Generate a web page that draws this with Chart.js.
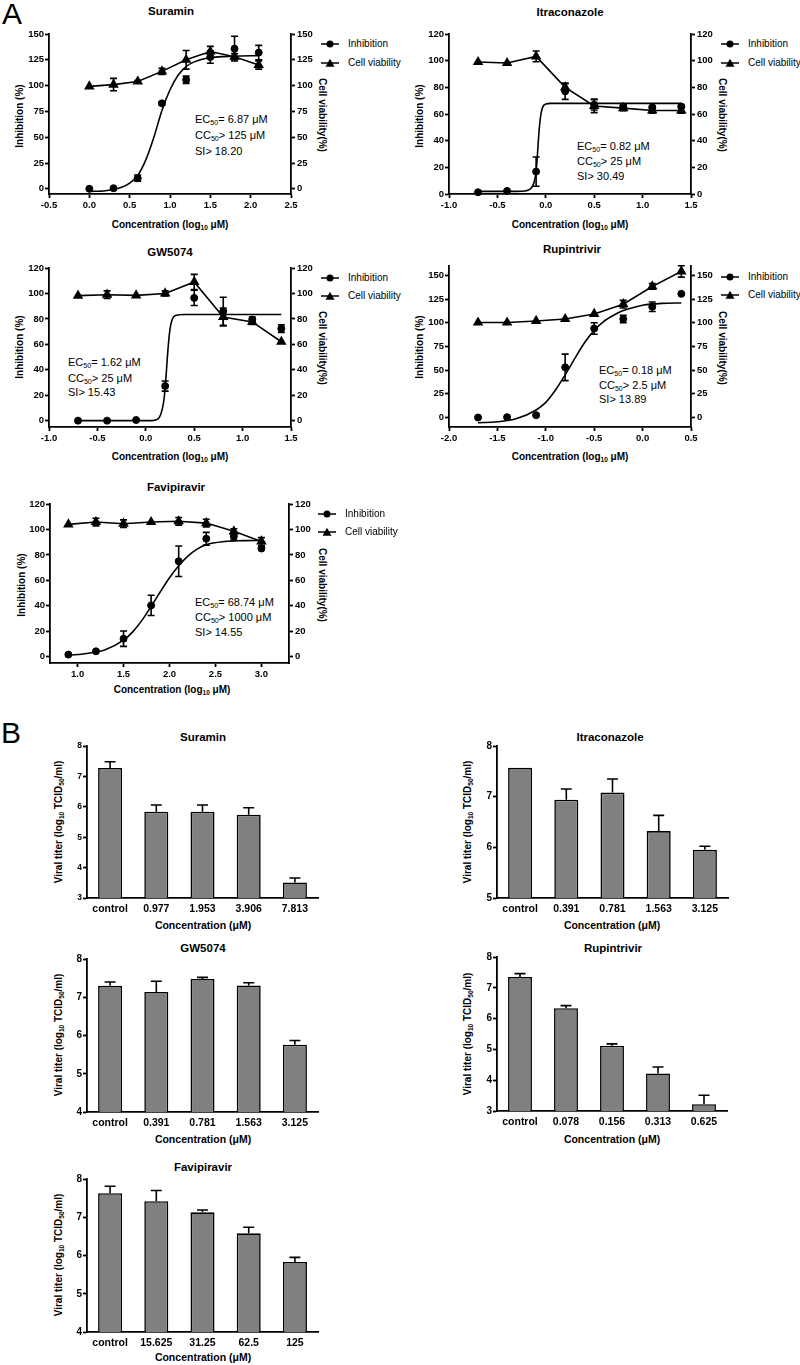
<!DOCTYPE html>
<html><head><meta charset="utf-8">
<script src="https://cdn.jsdelivr.net/npm/chart.js@4.4.0/dist/chart.umd.min.js"></script>
<style>
body{margin:0;background:#fff;}
#fig{position:relative;width:800px;height:1365px;background:#fff;overflow:hidden;font-family:'Liberation Sans',Arial,sans-serif;color:#000;}
#fig canvas{position:absolute;}
.t{position:absolute;white-space:nowrap;transform:translate(-50%,-50%);line-height:1;}
.title{font-size:11.5px;font-weight:bold;}
.xa{font-size:10px;font-weight:bold;}
.xb{font-size:10.5px;font-weight:bold;}
.yl{font-size:10px;font-weight:bold;transform:translate(-50%,-50%) rotate(-90deg);}
.yr{font-size:10px;font-weight:bold;transform:translate(-50%,-50%) rotate(90deg);}
.ann{position:absolute;font-size:11px;line-height:1;white-space:nowrap;transform:translateY(-50%);}
.leg{position:absolute;font-size:10px;line-height:1;white-space:nowrap;display:flex;align-items:center;transform:translateY(-50%);}
.leg svg{margin-right:9px;}
.big{position:absolute;font-size:30px;line-height:1;}
sub{font-size:0.65em;vertical-align:-0.3em;line-height:0;}
</style></head>
<body>
<div id="fig">
<div class="big" style="left:2px;top:-1.5px">A</div>
<div class="big" style="left:1px;top:717.5px">B</div>

<!-- A titles -->
<div class="t title" style="left:171px;top:12px">Suramin</div>
<div class="t title" style="left:570px;top:13px">Itraconazole</div>
<div class="t title" style="left:170px;top:253px">GW5074</div>
<div class="t title" style="left:572px;top:250px">Rupintrivir</div>
<div class="t title" style="left:176px;top:488px">Favipiravir</div>

<!-- A axis titles -->
<div class="t xa" style="left:170px;top:225px">Concentration (log<sub>10</sub> μM)</div>
<div class="t xa" style="left:570px;top:225px">Concentration (log<sub>10</sub> μM)</div>
<div class="t xa" style="left:170px;top:457px">Concentration (log<sub>10</sub> μM)</div>
<div class="t xa" style="left:570px;top:457px">Concentration (log<sub>10</sub> μM)</div>
<div class="t xa" style="left:172px;top:690px">Concentration (log<sub>10</sub> μM)</div>
<div class="t yl" style="left:20px;top:116px">Inhibition (%)</div>
<div class="t yl" style="left:420px;top:116px">Inhibition (%)</div>
<div class="t yl" style="left:20px;top:347px">Inhibition (%)</div>
<div class="t yl" style="left:420px;top:347px">Inhibition (%)</div>
<div class="t yl" style="left:22px;top:585px">Inhibition (%)</div>
<div class="t yr" style="left:322px;top:115px">Cell viability(%)</div>
<div class="t yr" style="left:722px;top:115px">Cell viability(%)</div>
<div class="t yr" style="left:322px;top:348px">Cell viability(%)</div>
<div class="t yr" style="left:722px;top:348px">Cell viability(%)</div>
<div class="t yr" style="left:322px;top:585px">Cell viability(%)</div>

<!-- annotations -->
<div class="ann" style="left:195px;top:119px">EC<sub>50</sub>= 6.87 μM</div>
<div class="ann" style="left:195px;top:135px">CC<sub>50</sub>&gt; 125 μM</div>
<div class="ann" style="left:195px;top:151px">SI&gt; 18.20</div>
<div class="ann" style="left:577px;top:146px">EC<sub>50</sub>= 0.82 μM</div>
<div class="ann" style="left:577px;top:161px">CC<sub>50</sub>&gt; 25 μM</div>
<div class="ann" style="left:577px;top:176px">SI&gt; 30.49</div>
<div class="ann" style="left:68px;top:362px">EC<sub>50</sub>= 1.62 μM</div>
<div class="ann" style="left:68px;top:378px">CC<sub>50</sub>&gt; 25 μM</div>
<div class="ann" style="left:68px;top:392px">SI&gt; 15.43</div>
<div class="ann" style="left:599px;top:370px">EC<sub>50</sub>= 0.18 μM</div>
<div class="ann" style="left:599px;top:385px">CC<sub>50</sub>&gt; 2.5 μM</div>
<div class="ann" style="left:599px;top:399px">SI&gt; 13.89</div>
<div class="ann" style="left:195px;top:602px">EC<sub>50</sub>= 68.74 μM</div>
<div class="ann" style="left:195px;top:617px">CC<sub>50</sub>&gt; 1000 μM</div>
<div class="ann" style="left:195px;top:632px">SI&gt; 14.55</div>

<!-- B titles -->
<div class="t title" style="left:203px;top:738px">Suramin</div>
<div class="t title" style="left:610px;top:738px">Itraconazole</div>
<div class="t title" style="left:203px;top:949px">GW5074</div>
<div class="t title" style="left:613px;top:949px">Rupintrivir</div>
<div class="t title" style="left:203px;top:1168px">Favipiravir</div>
<div class="t xb" style="left:203px;top:925px">Concentration (μM)</div>
<div class="t xb" style="left:612px;top:925px">Concentration (μM)</div>
<div class="t xb" style="left:203px;top:1139px">Concentration (μM)</div>
<div class="t xb" style="left:612px;top:1139px">Concentration (μM)</div>
<div class="t xb" style="left:203px;top:1357px">Concentration (μM)</div>
<div class="t yl" style="left:59px;top:822px">Viral titer (log<sub>10</sub> TCID<sub>50</sub>/ml)</div>
<div class="t yl" style="left:468px;top:822px">Viral titer (log<sub>10</sub> TCID<sub>50</sub>/ml)</div>
<div class="t yl" style="left:59px;top:1035px">Viral titer (log<sub>10</sub> TCID<sub>50</sub>/ml)</div>
<div class="t yl" style="left:468px;top:1034px">Viral titer (log<sub>10</sub> TCID<sub>50</sub>/ml)</div>
<div class="t yl" style="left:59px;top:1255px">Viral titer (log<sub>10</sub> TCID<sub>50</sub>/ml)</div>
</div>

<script>
// ---------- Panel A data (x = log10 concentration, µM) ----------
const suraminX = [0.0, 0.3, 0.6, 0.9, 1.2, 1.5, 1.8, 2.1];
const suraminInhib = [0, 0.6, 10.3, 82.8, 105.7, 127.7, 135.8, 132];
const suraminInhibErr = [0, 0, 3, 1.5, 3.5, 6, 12, 7];
const suraminViab = [99.3, 101, 104, 113.8, 125, 133, 128, 120];
const suraminViabErr = [0, 6, 1, 3, 9, 5, 3, 4];
const suraminFitX = [0.0, 0.2, 0.4, 0.5, 0.6, 0.7, 0.8, 0.9, 1.0, 1.1, 1.2, 1.3, 1.5, 1.8, 2.1];
const suraminFitY = [-2.5, -1.8, 1.5, 5.5, 13, 28, 50, 76, 96, 110, 118.5, 123, 127, 128.5, 129];
const suraminXTicks = [-0.5, 0, 0.5, 1, 1.5, 2, 2.5];
const suraminYTicks = [0, 25, 50, 75, 100, 125, 150];

const itraX = [-0.7, -0.4, -0.1, 0.2, 0.5, 0.8, 1.1, 1.4];
const itraInhib = [1.3, 2.3, 16.8, 77, 67, 65.6, 65, 65.6];
const itraInhibErr = [0, 0, 11, 6, 4, 2, 1, 1];
const itraViab = [99, 98.2, 103.2, 80, 66, 64.4, 62.6, 62.6];
const itraViabErr = [0, 0, 4, 3, 5, 2, 2, 2];
const itraFitX = [-0.7, -0.3, -0.2, -0.15, -0.12, -0.1, -0.086, -0.07, -0.05, -0.03, 0.0, 0.05, 0.5, 1.4];
const itraFitY = [2, 2, 2.5, 4.5, 9, 17, 30, 47, 60, 65.5, 67.5, 68, 68, 68];
const itraXTicks = [-1, -0.5, 0, 0.5, 1, 1.5];
const itraYTicks = [0, 20, 40, 60, 80, 100, 120];

const gwX = [-0.7, -0.4, -0.1, 0.2, 0.5, 0.8, 1.1, 1.4];
const gwInhib = [0, 0, 0.5, 27.2, 96.5, 86, 79.5, 72.4];
const gwInhibErr = [0, 0, 0, 4, 6, 11, 2, 3];
const gwViab = [98.3, 99, 98.5, 100, 109, 81.5, 77.6, 62];
const gwViabErr = [0, 3, 0, 2, 6, 7, 2, 0];
const gwFitX = [-0.7, 0.05, 0.1, 0.14, 0.17, 0.19, 0.21, 0.23, 0.25, 0.27, 0.3, 0.4, 1.4];
const gwFitY = [0, 0, 0.5, 2.5, 9, 18, 36, 57, 72, 79, 82.5, 83.5, 83.5];
const gwXTicks = [-1, -0.5, 0, 0.5, 1, 1.5];
const gwYTicks = [0, 20, 40, 60, 80, 100, 120];

const rupX = [-1.7, -1.4, -1.1, -0.8, -0.5, -0.2, 0.1, 0.4];
const rupInhib = [0, 0.4, 2.5, 53, 94, 104, 117, 130.6];
const rupInhibErr = [0, 0, 0, 14, 6, 4, 5, 0];
const rupViab = [100.3, 100.3, 102, 104, 109.4, 119.7, 138.4, 154.3];
const rupViabErr = [0, 0, 0, 0, 0, 4, 3, 6];
const rupFitX = [-1.7, -1.5, -1.3, -1.1, -1.0, -0.9, -0.8, -0.7, -0.6, -0.5, -0.4, -0.3, -0.2, -0.1, 0.0, 0.2, 0.4];
const rupFitY = [-5.5, -4.5, -1, 8, 16, 29, 45, 62.5, 79, 92, 101.5, 108, 113, 116, 118.5, 120.5, 121];
const rupXTicks = [-2, -1.5, -1, -0.5, 0, 0.5];
const rupYTicks = [0, 25, 50, 75, 100, 125, 150];

const faviX = [0.9, 1.2, 1.5, 1.8, 2.1, 2.4, 2.7, 3.0];
const faviInhib = [1.6, 4.2, 14.1, 40.3, 75, 92.7, 94.6, 85];
const faviInhibErr = [0, 0, 6, 8, 12, 5, 3, 1];
const faviViab = [104, 105.8, 104.5, 105.8, 106.4, 105, 98.5, 90.6];
const faviViabErr = [0, 3, 3, 0, 3, 3, 2, 3];
const faviFitX = [0.9, 1.1, 1.3, 1.5, 1.6, 1.7, 1.8, 1.9, 2.0, 2.1, 2.2, 2.3, 2.4, 2.6, 2.8, 3.0];
const faviFitY = [1, 2.5, 5.5, 13, 19.5, 28.5, 39.5, 51, 62, 71.5, 79, 84.5, 88, 90.5, 91.2, 91.4];
const faviXTicks = [1, 1.5, 2, 2.5, 3];
const faviYTicks = [0, 20, 40, 60, 80, 100, 120];

// ---------- Panel B data (viral titer, log10 TCID50/ml) ----------
const bSuraminLabels = ['control', '0.977', '1.953', '3.906', '7.813'];
const bSuraminValues = [7.28, 5.84, 5.84, 5.74, 3.51];
const bSuraminErr = [0.2, 0.22, 0.22, 0.23, 0.15];
const bSuraminYTicks = [3, 4, 5, 6, 7, 8];

const bItraLabels = ['control', '0.391', '0.781', '1.563', '3.125'];
const bItraValues = [7.57, 6.94, 7.08, 6.32, 5.95];
const bItraErr = [0, 0.21, 0.27, 0.31, 0.07];
const bItraYTicks = [5, 6, 7, 8];

const bGwLabels = ['control', '0.391', '0.781', '1.563', '3.125'];
const bGwValues = [7.30, 7.14, 7.48, 7.31, 5.76];
const bGwErr = [0.1, 0.28, 0.04, 0.07, 0.11];
const bGwYTicks = [4, 5, 6, 7, 8];

const bRupLabels = ['control', '0.078', '0.156', '0.313', '0.625'];
const bRupValues = [7.35, 6.34, 5.12, 4.22, 3.22];
const bRupErr = [0.11, 0.08, 0.06, 0.21, 0.29];
const bRupYTicks = [3, 4, 5, 6, 7, 8];

const bFaviLabels = ['control', '15.625', '31.25', '62.5', '125'];
const bFaviValues = [7.63, 7.42, 7.13, 6.58, 5.83];
const bFaviErr = [0.18, 0.28, 0.06, 0.16, 0.12];
const bFaviYTicks = [4, 5, 6, 7, 8];

// ---------- rendering ----------
Chart.defaults.font.family = "'Liberation Sans', Arial, sans-serif";
Chart.defaults.color = '#000';
const fig = document.getElementById('fig');

const errorBars = {
  id: 'errorBars',
  afterDatasetsDraw(chart) {
    const ctx = chart.ctx;
    chart.data.datasets.forEach((ds, i) => {
      if (!ds.errors) return;
      const meta = chart.getDatasetMeta(i);
      const ys = chart.scales[meta.yAxisID];
      ctx.save();
      ctx.strokeStyle = '#000';
      ctx.lineWidth = 1.6;
      meta.data.forEach((el, j) => {
        const e = ds.errors[j];
        if (!e) return;
        const raw = ds.data[j];
        const v = (typeof raw === 'object') ? raw.y : raw;
        const x = el.x;
        const top = ys.getPixelForValue(v + e);
        const bot = ds.upOnly ? ys.getPixelForValue(v) : ys.getPixelForValue(v - e);
        const cap = ds.capHalf || 3.5;
        ctx.beginPath();
        ctx.moveTo(x, top); ctx.lineTo(x, bot);
        ctx.moveTo(x - cap, top); ctx.lineTo(x + cap, top);
        if (!ds.upOnly) { ctx.moveTo(x - cap, bot); ctx.lineTo(x + cap, bot); }
        ctx.stroke();
      });
      ctx.restore();
    });
  }
};

function addCanvas(left, top, w, h) {
  const cv = document.createElement('canvas');
  cv.width = w; cv.height = h;
  cv.style.left = left + 'px'; cv.style.top = top + 'px';
  cv.style.width = w + 'px'; cv.style.height = h + 'px';
  fig.appendChild(cv);
  return cv;
}

function axisStyle(tickArr, fmt, fontSize, pad) {
  return {
    afterBuildTicks: s => { s.ticks = tickArr.map(v => ({ value: v })); },
    ticks: { font: { size: fontSize, weight: 'bold' }, color: '#000', padding: pad, maxRotation: 0, autoSkip: false, callback: fmt },
    grid: { drawOnChartArea: false, drawTicks: true, tickLength: 4, tickColor: '#000', tickWidth: 1.8, color: '#000' },
    border: { display: true, color: '#000', width: 1.8 }
  };
}

function legendHTML(x, y1, y2) {
  const line = '<line x1="0" y1="5" x2="18" y2="5" stroke="#000" stroke-width="1.5"/>';
  const d1 = document.createElement('div');
  d1.className = 'leg'; d1.style.left = x + 'px'; d1.style.top = y1 + 'px';
  d1.innerHTML = '<svg width="18" height="10">' + line + '<circle cx="9" cy="5" r="3.5" fill="#000"/></svg>Inhibition';
  const d2 = document.createElement('div');
  d2.className = 'leg'; d2.style.left = x + 'px'; d2.style.top = y2 + 'px';
  d2.innerHTML = '<svg width="18" height="10">' + line + '<polygon points="9,0.8 13.5,8.8 4.5,8.8" fill="#000"/></svg>Cell viability';
  fig.appendChild(d1); fig.appendChild(d2);
}

function makeA(p) {
  const LW = 44, RW = 30, PT = 8, XH = 22;
  const W = (p.r - p.l) + LW + RW, H = (p.b - p.t) + PT + XH;
  const cv = addCanvas(p.l - LW, p.t - PT, W, H);
  const xs = Object.assign({ type: 'linear', position: 'bottom', min: p.xMin, max: p.xMax,
    afterFit: s => { s.height = XH; } }, axisStyle(p.xTicks, v => Number(v).toFixed(1), 9.5, 2));
  const yl = Object.assign({ type: 'linear', position: 'left', min: p.yMin, max: p.yMax,
    afterFit: s => { s.width = LW; } }, axisStyle(p.yTicks, v => String(v), 9.5, 1));
  const yr = Object.assign({ type: 'linear', position: 'right', min: p.yMin, max: p.yMax,
    afterFit: s => { s.width = RW; } }, axisStyle(p.yTicks, v => String(v), 9.5, 2));
  new Chart(cv, {
    type: 'scatter',
    data: { datasets: [
      { label: 'Inhibition fit', type: 'line', data: p.fitX.map((x, i) => ({ x, y: p.fitY[i] })),
        borderColor: '#000', borderWidth: 1.6, pointRadius: 0, cubicInterpolationMode: 'monotone', fill: false, yAxisID: 'y', clip: false },
      { label: 'Inhibition', data: p.x.map((x, i) => ({ x, y: p.inhib[i] })), errors: p.inhibErr,
        backgroundColor: '#000', borderColor: '#000', pointStyle: 'circle', pointRadius: 3.5, showLine: false, yAxisID: 'y', clip: false },
      { label: 'Cell viability', type: 'line', data: p.x.map((x, i) => ({ x, y: p.viab[i] })), errors: p.viabErr,
        borderColor: '#000', backgroundColor: '#000', borderWidth: 1.6, pointStyle: 'triangle', pointRadius: 4.5, tension: 0, fill: false, yAxisID: 'y2', clip: false }
    ] },
    options: {
      responsive: false, animation: false, devicePixelRatio: 1,
      layout: { padding: { top: PT, left: 0, right: 0, bottom: 0 } },
      plugins: { legend: { display: false }, tooltip: { enabled: false } },
      scales: { x: xs, y: yl, y2: yr }
    },
    plugins: [errorBars]
  });
}

function makeB(p) {
  const LW = 30, PT = 8, XH = 22, RP = 6;
  const W = (p.r - p.l) + LW + RP, H = (p.b - p.t) + PT + XH;
  const cv = addCanvas(p.l - LW, p.t - PT, W, H);
  const ys = Object.assign({ type: 'linear', position: 'left', min: p.yMin, max: p.yMax,
    afterFit: s => { s.width = LW; } }, axisStyle(p.yTicks, v => String(v), p.tickFont, 1));
  new Chart(cv, {
    type: 'bar',
    data: { labels: p.labels, datasets: [{
      data: p.values, errors: p.errors, upOnly: true, capHalf: 5.5,
      backgroundColor: '#808080', borderColor: '#000', borderWidth: 1.6, borderSkipped: false,
      barPercentage: 0.52, categoryPercentage: 1
    }] },
    options: {
      responsive: false, animation: false, devicePixelRatio: 1,
      layout: { padding: { top: PT, left: 0, right: RP, bottom: 0 } },
      plugins: { legend: { display: false }, tooltip: { enabled: false } },
      scales: {
        x: { afterFit: s => { s.height = XH; },
          ticks: { font: { size: 10.5, weight: 'bold' }, color: '#000', padding: 5, maxRotation: 0, autoSkip: false },
          grid: { display: false, drawTicks: false },
          border: { display: true, color: '#000', width: 1.8 } },
        y: ys
      }
    },
    plugins: [errorBars]
  });
}

makeA({ l: 49, r: 291, t: 34, b: 194, xMin: -0.5, xMax: 2.5, yMin: -5, yMax: 150, xTicks: suraminXTicks, yTicks: suraminYTicks,
  x: suraminX, inhib: suraminInhib, inhibErr: suraminInhibErr, viab: suraminViab, viabErr: suraminViabErr, fitX: suraminFitX, fitY: suraminFitY });
makeA({ l: 449, r: 691, t: 34, b: 194, xMin: -1, xMax: 1.5, yMin: 0, yMax: 120, xTicks: itraXTicks, yTicks: itraYTicks,
  x: itraX, inhib: itraInhib, inhibErr: itraInhibErr, viab: itraViab, viabErr: itraViabErr, fitX: itraFitX, fitY: itraFitY });
makeA({ l: 49, r: 291, t: 268, b: 427, xMin: -1, xMax: 1.5, yMin: -5, yMax: 120, xTicks: gwXTicks, yTicks: gwYTicks,
  x: gwX, inhib: gwInhib, inhibErr: gwInhibErr, viab: gwViab, viabErr: gwViabErr, fitX: gwFitX, fitY: gwFitY });
makeA({ l: 449, r: 691, t: 266, b: 427, xMin: -2, xMax: 0.5, yMin: -10, yMax: 160, xTicks: rupXTicks, yTicks: rupYTicks,
  x: rupX, inhib: rupInhib, inhibErr: rupInhibErr, viab: rupViab, viabErr: rupViabErr, fitX: rupFitX, fitY: rupFitY });
makeA({ l: 50, r: 289, t: 504, b: 663, xMin: 0.7, xMax: 3.3, yMin: -5, yMax: 120, xTicks: faviXTicks, yTicks: faviYTicks,
  x: faviX, inhib: faviInhib, inhibErr: faviInhibErr, viab: faviViab, viabErr: faviViabErr, fitX: faviFitX, fitY: faviFitY });

legendHTML(321, 44, 63);
legendHTML(721, 44, 63);
legendHTML(321, 278, 296);
legendHTML(721, 277, 295);
legendHTML(318, 514, 532);

makeB({ l: 87, r: 318, t: 746, b: 898, yMin: 3, yMax: 8, yTicks: bSuraminYTicks, tickFont: 8.5, labels: bSuraminLabels, values: bSuraminValues, errors: bSuraminErr });
makeB({ l: 497, r: 728, t: 746, b: 898, yMin: 5, yMax: 8, yTicks: bItraYTicks, tickFont: 10, labels: bItraLabels, values: bItraValues, errors: bItraErr });
makeB({ l: 87, r: 318, t: 959, b: 1112, yMin: 4, yMax: 8, yTicks: bGwYTicks, tickFont: 10, labels: bGwLabels, values: bGwValues, errors: bGwErr });
makeB({ l: 497, r: 727, t: 957, b: 1111, yMin: 3, yMax: 8, yTicks: bRupYTicks, tickFont: 10, labels: bRupLabels, values: bRupValues, errors: bRupErr });
makeB({ l: 87, r: 318, t: 1179, b: 1332, yMin: 4, yMax: 8, yTicks: bFaviYTicks, tickFont: 10, labels: bFaviLabels, values: bFaviValues, errors: bFaviErr });
</script>
</body></html>
